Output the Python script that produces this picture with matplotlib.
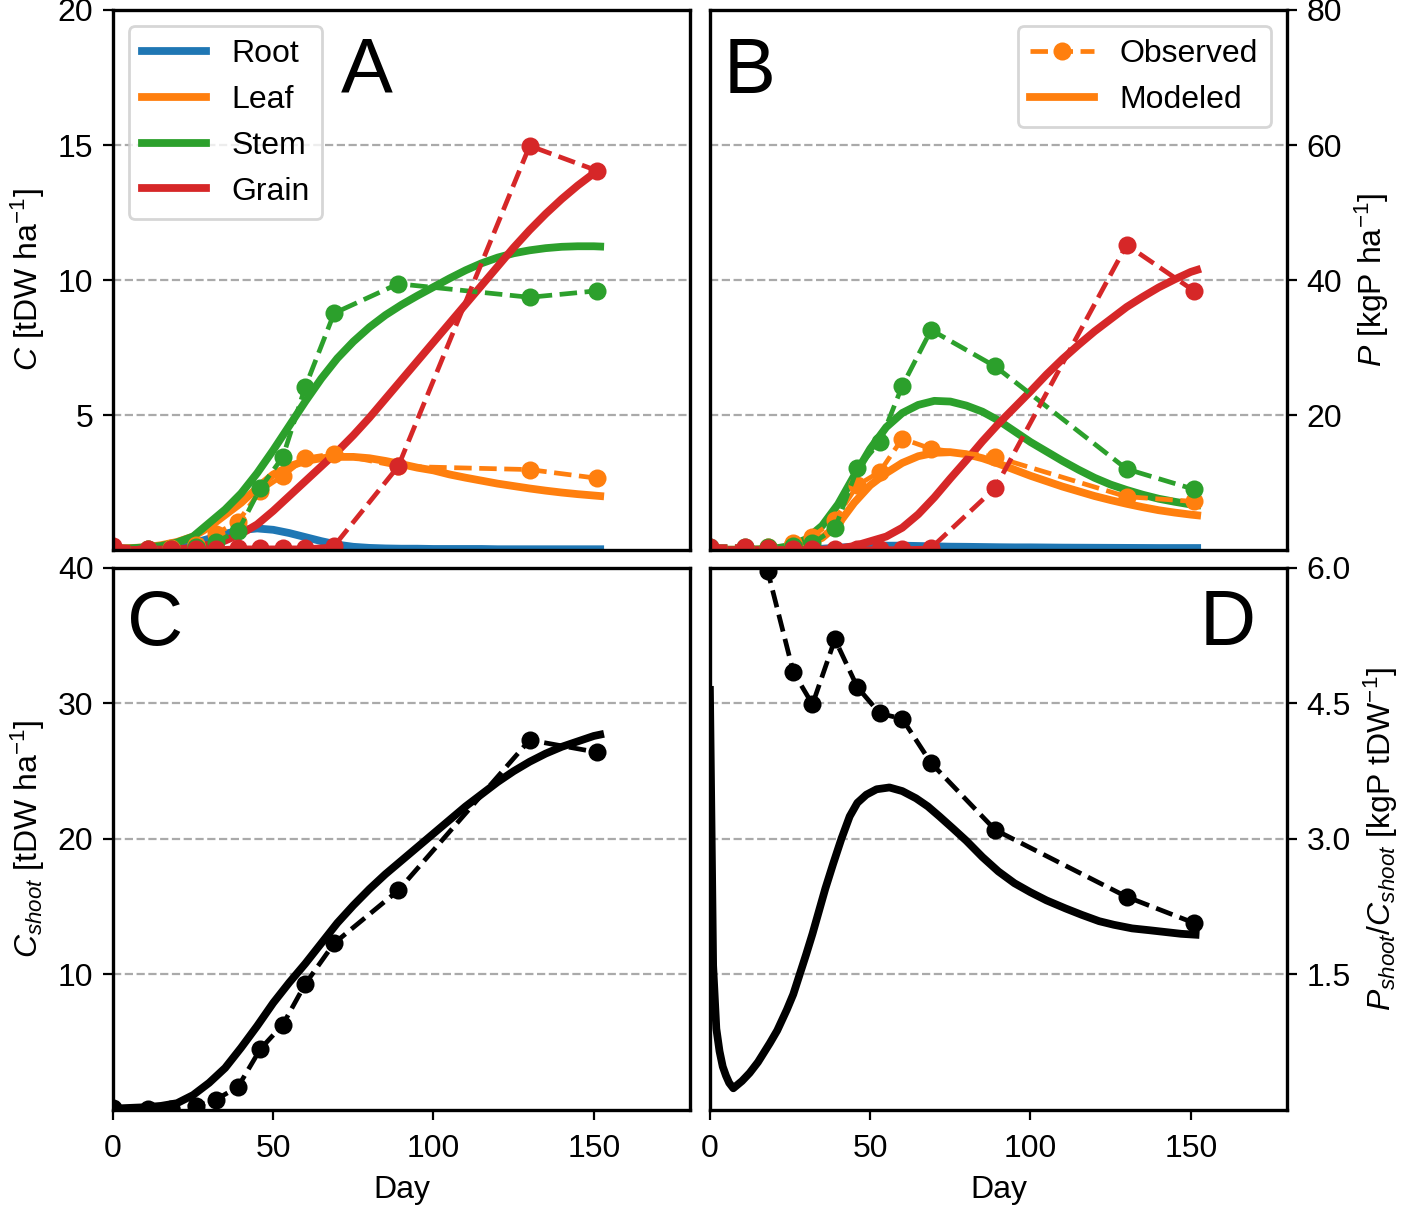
import numpy as np
import matplotlib.pyplot as plt
from matplotlib.lines import Line2D

plt.rcParams['font.family'] = ['Liberation Sans', 'DejaVu Sans']
plt.rcParams['font.size'] = 11.5
plt.rcParams['mathtext.fontset'] = 'custom'
plt.rcParams['mathtext.rm'] = 'Liberation Sans'
plt.rcParams['mathtext.it'] = 'Liberation Sans:italic'
plt.rcParams['axes.linewidth'] = 1.2

# colours of the organs
c_root, c_leaf, c_stem, c_grain = '#1f77b4', '#ff7f0e', '#2ca02c', '#d62728'

# observation days
obs_days = [0, 11, 18, 26, 32, 39, 46, 53, 60, 69, 89, 130, 151]

# observed carbon (tDW/ha)
leaf_c_obs = [0.05, 0.05, 0.08, 0.2, 0.6, 1.05, 2.2, 2.75, 3.4, 3.57, 3.1, 2.98, 2.66]
stem_c_obs = [0.05, 0.03, 0.05, 0.1, 0.3, 0.7, 2.3, 3.45, 6.04, 8.77, 9.86, 9.36, 9.6]
grain_c_obs = [0.15, 0.05, 0.05, 0.05, 0.05, 0.08, 0.08, 0.08, 0.08, 0.15, 3.1, 14.97, 14.05]

# observed phosphorus (kgP/ha)
leaf_p_obs = [0.3, 0.3, 0.4, 1.1, 2.0, 4.5, 9.6, 11.6, 16.5, 15.0, 13.8, 7.9, 7.2]
stem_p_obs = [0.5, 0.5, 0.5, 0.6, 1.0, 3.2, 12.1, 16.0, 24.3, 32.6, 27.2, 12.0, 9.0]
grain_p_obs = [0.5, 0.5, 0.3, 0.2, 0.2, 0.2, 0.2, 0.2, 0.2, 0.3, 9.2, 45.2, 38.4]

# observed shoot carbon and P/C ratio (first two ratios lie above the axis)
shoot_c_obs = [0.15, 0.1, 0.08, 0.3, 0.75, 1.7, 4.5, 6.3, 9.3, 12.3, 16.2, 27.3, 26.4]
ratio_obs = [9.0, 7.5, 5.97, 4.85, 4.49, 5.21, 4.68, 4.39, 4.33, 3.84, 3.10, 2.36, 2.07]

# modeled series
mod_days = [0, 5, 10, 15, 20, 25, 30, 35, 40, 45, 50, 55, 60, 65, 70, 75, 80, 85,
            90, 95, 100, 105, 110, 115, 120, 125, 130, 135, 140, 145, 150, 152]

root_c = [0.02, 0.03, 0.05, 0.08, 0.15, 0.25, 0.42, 0.6, 0.74, 0.8, 0.75, 0.63, 0.48, 0.33, 0.2, 0.12,
          0.08, 0.06, 0.05, 0.05, 0.04, 0.04, 0.04, 0.04, 0.03, 0.03, 0.03, 0.03, 0.03, 0.03, 0.03, 0.03]
leaf_c = [0.05, 0.07, 0.1, 0.18, 0.3, 0.5, 0.85, 1.3, 1.75, 2.3, 2.8, 3.1, 3.3, 3.4, 3.45, 3.45,
          3.4, 3.3, 3.18, 3.05, 2.95, 2.8, 2.68, 2.57, 2.46, 2.37, 2.28, 2.2, 2.13, 2.07, 2.02, 2.0]
stem_c = [0.05, 0.06, 0.1, 0.15, 0.28, 0.5, 1.0, 1.5, 2.1, 2.85, 3.7, 4.6, 5.5, 6.35, 7.1, 7.72,
          8.25, 8.7, 9.08, 9.42, 9.74, 10.06, 10.36, 10.62, 10.83, 10.99, 11.1, 11.18, 11.23, 11.25, 11.25, 11.24]
grain_c = [0, 0, 0.01, 0.02, 0.03, 0.08, 0.2, 0.35, 0.6, 0.95, 1.45, 2.0, 2.55, 3.1, 3.65, 4.25,
           4.9, 5.6, 6.3, 7.0, 7.7, 8.4, 9.1, 9.8, 10.5, 11.2, 11.85, 12.45, 13.0, 13.5, 13.95, 14.1]

root_p = [0, 0, 0, 0, 0.02, 0.05, 0.1, 0.2, 0.35, 0.5, 0.6, 0.65, 0.65, 0.6, 0.55, 0.5,
          0.48, 0.45, 0.42, 0.4, 0.4, 0.38, 0.36, 0.35, 0.34, 0.33, 0.32, 0.31, 0.3, 0.3, 0.3, 0.3]
leaf_p = [0.05, 0.05, 0.05, 0.08, 0.12, 0.3, 0.8, 1.8, 3.8, 7.0, 9.6, 11.4, 12.9, 13.9, 14.4, 14.5,
          14.2, 13.6, 12.8, 11.9, 11.0, 10.2, 9.4, 8.7, 8.0, 7.4, 6.85, 6.35, 5.9, 5.55, 5.25, 5.15]
stem_p = [0.05, 0.05, 0.05, 0.1, 0.2, 0.6, 1.6, 3.6, 6.8, 11.0, 15.0, 18.2, 20.3, 21.5, 22.1, 22.0,
          21.4, 20.5, 19.2, 17.6, 16.0, 14.6, 13.2, 11.9, 10.7, 9.7, 8.9, 8.2, 7.6, 7.15, 6.75, 6.65]
grain_p = [0, 0, 0, 0, 0, 0, 0.02, 0.05, 0.2, 0.6, 1.3, 2.0, 3.3, 5.3, 7.8, 10.6,
           13.3, 16.1, 18.7, 21.1, 23.5, 26.0, 28.3, 30.4, 32.4, 34.2, 36.0, 37.5, 38.9, 40.1, 41.2, 41.5]

shoot_c = [0.1, 0.15, 0.2, 0.3, 0.5, 1.1, 2.0, 3.1, 4.6, 6.2, 7.9, 9.4, 10.8, 12.3, 13.8, 15.1,
           16.3, 17.4, 18.4, 19.4, 20.4, 21.4, 22.4, 23.3, 24.2, 25.0, 25.7, 26.3, 26.8, 27.2, 27.6, 27.7]

ratio_days = [0, 1, 2, 3, 4, 5, 6, 7.3, 10, 12.4, 15, 18.7, 21, 24, 26, 28, 30, 32, 34, 36,
              38.4, 41, 43.6, 46, 48.8, 52, 56, 60, 64.3, 68, 71.6, 76, 80, 85, 90, 95, 100,
              105, 111, 116, 121.4, 126, 131.7, 137, 142, 147, 151.5]
ratio_mod = [4.65, 1.6, 0.9, 0.65, 0.48, 0.38, 0.3, 0.24, 0.32, 0.41, 0.53, 0.74, 0.88, 1.11,
             1.28, 1.5, 1.72, 1.95, 2.2, 2.45, 2.72, 3.0, 3.25, 3.4, 3.49, 3.55, 3.57, 3.53,
             3.45, 3.36, 3.25, 3.11, 2.98, 2.8, 2.64, 2.51, 2.41, 2.32, 2.23, 2.16, 2.09, 2.05,
             2.01, 1.99, 1.97, 1.95, 1.94]

LW_MOD = 2.8
LW_OBS = 1.7
MS = 5.5

fig = plt.figure(figsize=(7.085, 6.09), dpi=200)
left_l, left_r, width = 0.0797, 0.501, 0.4072
ax_a = fig.add_axes([left_l, 0.5484, width, 0.4434])
ax_b = fig.add_axes([left_r, 0.5484, width, 0.4434])
ax_c = fig.add_axes([left_l, 0.0887, width, 0.4450])
ax_d = fig.add_axes([left_r, 0.0887, width, 0.4450])

for ax in (ax_a, ax_b, ax_c, ax_d):
    ax.set_xlim(0, 180)
    ax.set_xticks([0, 50, 100, 150])
    ax.tick_params(axis='x', pad=5)
    ax.grid(axis='y', linestyle='--', color='#aaaaaa', linewidth=0.8)
    ax.set_axisbelow(True)

for ax in (ax_a, ax_b):
    ax.tick_params(axis='x', bottom=False, labelbottom=False)

for ax in (ax_b, ax_d):
    ax.yaxis.tick_right()
    ax.yaxis.set_label_position('right')

# A: carbon
for vals, col in [(root_c, c_root), (leaf_c, c_leaf), (stem_c, c_stem), (grain_c, c_grain)]:
    ax_a.plot(mod_days, vals, color=col, lw=LW_MOD)
for vals, col in [(leaf_c_obs, c_leaf), (stem_c_obs, c_stem), (grain_c_obs, c_grain)]:
    ax_a.plot(obs_days, vals, '--o', color=col, lw=LW_OBS, ms=MS)
ax_a.set_ylim(0, 20)
ax_a.set_yticks([5, 10, 15, 20])
ax_a.set_ylabel(r'$C$ [tDW ha$^{-1}$]')
organ_handles = [Line2D([], [], color=c, lw=LW_MOD) for c in (c_root, c_leaf, c_stem, c_grain)]
ax_a.legend(organ_handles, ['Root', 'Leaf', 'Stem', 'Grain'], loc='upper left')
ax_a.text(0.44, 0.885, 'A', transform=ax_a.transAxes, fontsize=28, ha='center', va='center')

# B: phosphorus
for vals, col in [(root_p, c_root), (leaf_p, c_leaf), (stem_p, c_stem), (grain_p, c_grain)]:
    ax_b.plot(mod_days, vals, color=col, lw=LW_MOD)
for vals, col in [(leaf_p_obs, c_leaf), (stem_p_obs, c_stem), (grain_p_obs, c_grain)]:
    ax_b.plot(obs_days, vals, '--o', color=col, lw=LW_OBS, ms=MS)
ax_b.set_ylim(0, 80)
ax_b.set_yticks([20, 40, 60, 80])
ax_b.set_ylabel(r'$P$ [kgP ha$^{-1}$]')
kind_handles = [Line2D([], [], color=c_leaf, ls='--', marker='o', lw=LW_OBS, ms=MS),
                Line2D([], [], color=c_leaf, lw=LW_MOD)]
ax_b.legend(kind_handles, ['Observed', 'Modeled'], loc='upper right')
ax_b.text(0.069, 0.885, 'B', transform=ax_b.transAxes, fontsize=28, ha='center', va='center')

# C: shoot carbon
ax_c.plot(mod_days, shoot_c, color='black', lw=LW_MOD)
ax_c.plot(obs_days, shoot_c_obs, '--o', color='black', lw=LW_OBS, ms=MS)
ax_c.set_ylim(0, 40)
ax_c.set_yticks([10, 20, 30, 40])
ax_c.set_ylabel(r'$C_{shoot}$ [tDW ha$^{-1}$]')
ax_c.set_xlabel('Day')
ax_c.text(0.073, 0.895, 'C', transform=ax_c.transAxes, fontsize=28, ha='center', va='center')

# D: P/C ratio of shoot
ax_d.plot(ratio_days, ratio_mod, color='black', lw=LW_MOD)
ax_d.plot(obs_days, ratio_obs, '--o', color='black', lw=LW_OBS, ms=MS)
ax_d.set_ylim(0, 6)
ax_d.set_yticks([1.5, 3.0, 4.5, 6.0])
ax_d.set_yticklabels(['1.5', '3.0', '4.5', '6.0'])
ax_d.set_ylabel(r'$P_{shoot}/C_{shoot}$ [kgP tDW$^{-1}$]')
ax_d.set_xlabel('Day')
ax_d.text(0.898, 0.895, 'D', transform=ax_d.transAxes, fontsize=28, ha='center', va='center')

fig.savefig('out.png', dpi=200)
